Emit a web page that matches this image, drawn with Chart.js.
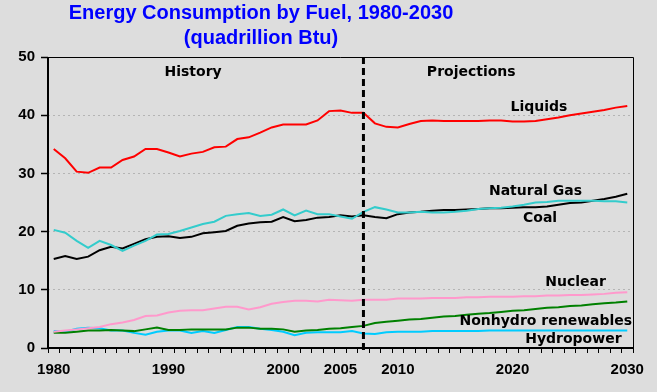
<!DOCTYPE html>
<html>
<head>
<meta charset="utf-8">
<title>Energy Consumption by Fuel, 1980-2030</title>
<script src="https://cdn.jsdelivr.net/npm/chart.js"></script>
<style>
    html, body { margin: 0; padding: 0; background: #dddddd; }
    #wrap { width: 657px; height: 392px; }
</style>
</head>
<body>
<div id="wrap"><canvas id="energy-chart" width="657" height="392"></canvas></div>
<script>
// years 1980-2030, history up to 2006, projections after
var years = [
    '1980', '1981', '1982', '1983', '1984', '1985', '1986', '1987', '1988', '1989',
    '1990', '1991', '1992', '1993', '1994', '1995', '1996', '1997', '1998', '1999',
    '2000', '2001', '2002', '2003', '2004', '2005', '2006', '2007', '2008', '2009',
    '2010', '2011', '2012', '2013', '2014', '2015', '2016', '2017', '2018', '2019',
    '2020', '2021', '2022', '2023', '2024', '2025', '2026', '2027', '2028', '2029',
    '2030'
];
var shownYears = ['1980', '1990', '2000', '2005', '2010', '2020', '2030'];
var projectionStart = '2007';

var liquids = [
    34.2, 32.6, 30.3, 30.1, 31.0, 31.0, 32.3, 32.9, 34.2, 34.2,
    33.6, 32.9, 33.4, 33.7, 34.5, 34.6, 35.9, 36.2, 37.0, 37.9,
    38.4, 38.4, 38.4, 39.1, 40.7, 40.8, 40.4, 40.4, 38.6, 38.0,
    37.9, 38.5, 39.0, 39.1, 39.0, 39.0, 39.0, 39.0, 39.1, 39.1,
    38.9, 38.9, 39.0, 39.3, 39.6, 40.0, 40.3, 40.6, 40.9, 41.3,
    41.6
];
var naturalGas = [
    20.3, 19.8, 18.4, 17.2, 18.4, 17.7, 16.7, 17.6, 18.4, 19.5,
    19.6, 20.1, 20.7, 21.3, 21.7, 22.7, 23.0, 23.2, 22.7, 22.9,
    23.8, 22.8, 23.6, 23.0, 23.0, 22.6, 22.2, 23.4, 24.2, 23.8,
    23.3, 23.3, 23.4, 23.3, 23.3, 23.4, 23.6, 23.9, 24.0, 24.1,
    24.3, 24.6, 25.0, 25.1, 25.3, 25.3, 25.3, 25.3, 25.2, 25.2,
    25.0
];
var coal = [
    15.3, 15.8, 15.3, 15.7, 16.8, 17.4, 17.1, 17.9, 18.7, 19.1,
    19.2, 18.9, 19.1, 19.7, 19.9, 20.1, 21.0, 21.4, 21.6, 21.7,
    22.5, 21.8, 22.0, 22.4, 22.5, 22.8, 22.6, 22.8, 22.5, 22.3,
    23.0, 23.3, 23.4, 23.6, 23.7, 23.7, 23.8, 23.9, 24.0, 24.0,
    24.1, 24.2, 24.2, 24.3, 24.6, 24.9, 25.0, 25.3, 25.6, 26.0,
    26.5
];
var nuclear = [
    2.8, 3.0, 3.2, 3.4, 3.6, 4.1, 4.4, 4.8, 5.5, 5.6,
    6.1, 6.4, 6.5, 6.5, 6.8, 7.1, 7.1, 6.6, 7.0, 7.6,
    7.9, 8.1, 8.1, 8.0, 8.3, 8.2, 8.1, 8.3, 8.3, 8.3,
    8.5, 8.5, 8.5, 8.6, 8.6, 8.6, 8.7, 8.7, 8.8, 8.8,
    8.8, 8.9, 8.9, 9.0, 9.0, 9.1, 9.1, 9.2, 9.3, 9.5,
    9.6
];
var renewables = [
    2.6, 2.6, 2.8, 3.0, 3.0, 3.1, 3.0, 2.9, 3.2, 3.5,
    3.1, 3.1, 3.2, 3.2, 3.2, 3.2, 3.5, 3.5, 3.3, 3.3,
    3.2, 2.8, 3.0, 3.1, 3.3, 3.4, 3.6, 3.8, 4.3, 4.5,
    4.7, 4.9, 5.0, 5.2, 5.4, 5.5, 5.7, 5.9, 6.0, 6.2,
    6.4, 6.5, 6.7, 6.9, 7.0, 7.2, 7.3, 7.5, 7.7, 7.8,
    8.0
];
var hydropower = [
    2.9, 2.8, 3.3, 3.5, 3.4, 3.0, 3.0, 2.6, 2.3, 2.8,
    3.0, 3.0, 2.6, 2.9, 2.6, 3.1, 3.6, 3.6, 3.3, 3.1,
    2.8, 2.2, 2.6, 2.7, 2.7, 2.7, 2.9, 2.5, 2.4, 2.7,
    2.8, 2.8, 2.8, 2.9, 2.9, 2.9, 2.9, 2.9, 3.0, 3.0,
    3.0, 3.0, 3.0, 3.0, 3.0, 3.0, 3.0, 3.0, 3.0, 3.0,
    3.0
];

// text written inside the plot: [text, year position, value]
var plotLabels = [
    ['History', 12.15, 47.4],
    ['Projections', 36.4, 47.4],
    ['Liquids', 42.3, 41.4],
    ['Natural Gas', 42.0, 27.0],
    ['Coal', 42.4, 22.2],
    ['Nuclear', 45.5, 11.3],
    ['Nonhydro renewables', 42.9, 4.5],
    ['Hydropower', 45.3, 1.4]
];
var titleLines = ['Energy Consumption by Fuel, 1980-2030', '(quadrillion Btu)'];

var extrasPlugin = {
    id: 'extras',
    beforeDraw: function (chart) {
        var ctx = chart.ctx;
        ctx.save();
        ctx.fillStyle = '#dddddd';
        ctx.fillRect(0, 0, chart.width, chart.height);
        ctx.restore();
    },
    afterDatasetsDraw: function (chart) {
        var ctx = chart.ctx;
        var area = chart.chartArea;
        var xs = chart.scales.x;
        var ys = chart.scales.y;

        // history / projections divider
        var xd = xs.getPixelForValue(years.indexOf(projectionStart));
        ctx.save();
        ctx.strokeStyle = '#000000';
        ctx.lineWidth = 3;
        ctx.setLineDash([7, 4]);
        ctx.beginPath();
        ctx.moveTo(xd, area.top);
        ctx.lineTo(xd, area.bottom + 6);
        ctx.stroke();
        ctx.restore();

        // frame
        ctx.save();
        ctx.strokeStyle = '#000000';
        ctx.lineWidth = 1;
        ctx.beginPath();
        ctx.moveTo(area.left, area.top + 0.5);
        ctx.lineTo(area.right + 0.5, area.top + 0.5);
        ctx.lineTo(area.right + 0.5, area.bottom);
        ctx.stroke();
        ctx.lineWidth = 2;
        ctx.beginPath();
        ctx.moveTo(area.left, area.top);
        ctx.lineTo(area.left, area.bottom);
        ctx.lineTo(area.right + 1, area.bottom);
        ctx.stroke();
        ctx.restore();

        ctx.save();
        ctx.fillStyle = '#000000';
        ctx.font = 'bold 14px "DejaVu Sans", Verdana, sans-serif';
        ctx.textAlign = 'center';
        ctx.textBaseline = 'middle';
        plotLabels.forEach(function (l) {
            ctx.fillText(l[0], xs.getPixelForValue(l[1]), ys.getPixelForValue(l[2]));
        });
        ctx.restore();

        ctx.save();
        ctx.fillStyle = '#0000ff';
        ctx.font = 'bold 20px Arial, "Liberation Sans", sans-serif';
        ctx.textAlign = 'center';
        ctx.textBaseline = 'alphabetic';
        ctx.fillText(titleLines[0], 261, 18.5);
        ctx.fillText(titleLines[1], 261, 43.5);
        ctx.restore();
    }
};

function line(label, data, color, width) {
    return {
        label: label,
        data: data,
        borderColor: color,
        backgroundColor: color,
        borderWidth: width,
        pointRadius: 0,
        tension: 0,
        fill: false
    };
}

document.addEventListener('DOMContentLoaded', function () {
    Chart.defaults.font.family = 'Arial, "Liberation Sans", sans-serif';
    var ctx = document.getElementById('energy-chart').getContext('2d');
    new Chart(ctx, {
        type: 'line',
        data: {
            labels: years,
            datasets: [
                line('Liquids', liquids, '#ff0000', 2),
                line('Natural Gas', naturalGas, '#33cccc', 2),
                line('Coal', coal, '#000000', 2),
                line('Nuclear', nuclear, '#ff99cc', 2),
                line('Nonhydro renewables', renewables, '#008000', 2),
                line('Hydropower', hydropower, '#00ccff', 2)
            ]
        },
        options: {
            responsive: false,
            animation: false,
            layout: {
                padding: { top: 57, right: 24, left: 0, bottom: 0 }
            },
            plugins: {
                legend: { display: false },
                title: { display: false },
                tooltip: { enabled: false }
            },
            scales: {
                x: {
                    type: 'category',
                    offset: true,
                    afterFit: function (scale) { scale.height = 44; },
                    border: { display: false },
                    grid: {
                        offset: true,
                        drawOnChartArea: false,
                        drawTicks: true,
                        tickLength: 5,
                        color: '#000000',
                        tickColor: '#000000'
                    },
                    ticks: {
                        autoSkip: false,
                        maxRotation: 0,
                        padding: 8,
                        color: '#000000',
                        font: { size: 15, weight: 'bold' },
                        callback: function (value) {
                            var lab = this.getLabelForValue(value);
                            return shownYears.indexOf(lab) >= 0 ? lab : '';
                        }
                    }
                },
                y: {
                    min: 0,
                    max: 50,
                    afterFit: function (scale) { scale.width = 48; },
                    border: { display: false, dash: [2, 3] },
                    grid: {
                        drawOnChartArea: true,
                        drawTicks: true,
                        tickLength: 7,
                        color: '#b4b4b4',
                        tickColor: '#000000',
                        tickBorderDash: [],
                        tickWidth: 1.5
                    },
                    ticks: {
                        stepSize: 10,
                        padding: 6,
                        color: '#000000',
                        font: { size: 15, weight: 'bold' }
                    }
                }
            }
        },
        plugins: [extrasPlugin]
    });
});
</script>
</body>
</html>
